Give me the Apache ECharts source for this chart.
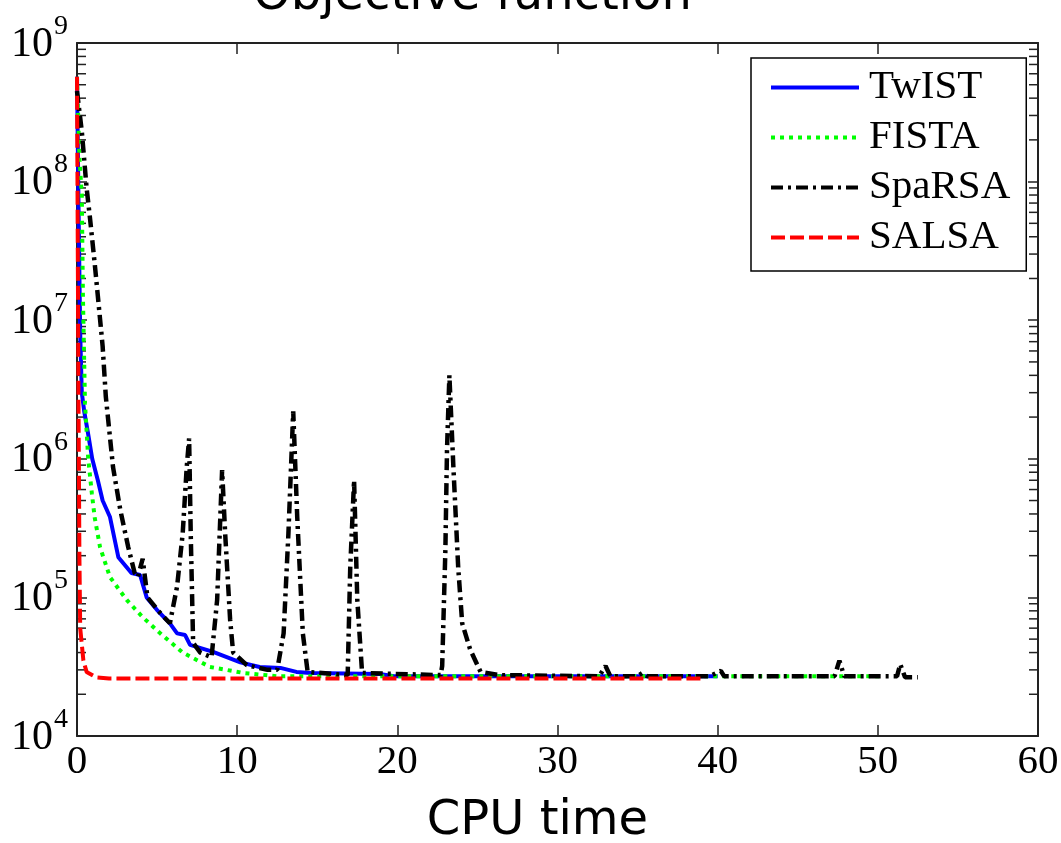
<!DOCTYPE html>
<html>
<head>
<meta charset="utf-8">
<script src="https://cdn.jsdelivr.net/npm/echarts@6/dist/echarts.min.js"></script>
<style>
html,body{margin:0;padding:0;background:#fff;}
#chart{width:1061px;height:843px;}
</style>
</head>
<body>
<div id="chart"></div>
<script>
// ---- data ----
const seriesNames = ['TwIST', 'FISTA', 'SpaRSA', 'SALSA'];

const twistT = [0, 0.1, 0.2, 0.3, 0.45, 0.7, 0.95, 1.3, 1.6, 2.06, 2.58, 3.4, 3.94, 4.35, 5.0, 5.8, 6.25, 6.75, 7.06, 8.5, 10.2, 11.4, 12.7, 13.7, 14.6, 18.9, 19.8, 40];
const twistV = [5.7e8, 6e7, 8e6, 3e6, 2.2e6, 1.5e6, 1.0e6, 7e5, 5e5, 3.8e5, 1.95e5, 1.5e5, 1.45e5, 1e5, 8.1e4, 6.5e4, 5.5e4, 5.35e4, 4.55e4, 4.05e4, 3.4e4, 3.15e4, 3.1e4, 2.9e4, 2.85e4, 2.8e4, 2.7e4, 2.7e4];

const fistaT = [0, 0.15, 0.3, 0.37, 0.5, 0.7, 0.93, 1.1, 1.44, 2.06, 3.1, 4.1, 5.2, 6.6, 8.3, 10.4, 12.5, 50.2];
const fistaV = [5.7e8, 1.5e8, 8e7, 1.5e7, 2.5e6, 1e6, 5.6e5, 3.8e5, 2.3e5, 1.4e5, 9.6e4, 7.2e4, 5.5e4, 4e4, 3.15e4, 2.85e4, 2.7e4, 2.7e4];

const sparsaT = [0, 0.3, 0.6, 0.8, 1.1, 1.3, 1.6, 1.8, 2.25, 2.7, 3.2, 3.6, 3.8, 4.1, 4.4, 5.2, 5.8, 6.25, 6.6, 6.85, 7.0, 7.1, 7.25, 7.7, 8.4, 8.75, 9.06, 9.25, 9.56, 9.75, 10.6, 11.9, 12.5, 12.9, 13.2, 13.5, 13.75, 14.1, 14.4, 16.9, 17.06, 17.3, 17.5, 17.8, 22.7, 22.8, 23.0, 23.1, 23.25, 23.5, 23.8, 24.05, 24.55, 25.2, 26.4, 32.6, 33.0, 33.3, 35.0, 35.3, 35.6, 39.5, 40.2, 40.4, 47.3, 47.6, 47.9, 51.2, 51.4, 51.7, 52.5];
const sparsaV = [4.5e8, 2.3e8, 9e7, 5.6e7, 2.6e7, 1.5e7, 6.5e6, 2.8e6, 8.7e5, 4.3e5, 2.3e5, 1.5e5, 1.4e5, 1.9e5, 1e5, 7.7e4, 6.5e4, 1.2e5, 2.9e5, 8.7e5, 1.4e6, 2.9e5, 4.7e4, 4e4, 3.7e4, 9.6e4, 8.3e5, 2.9e5, 6.9e4, 4e4, 3.25e4, 3e4, 3e4, 5.5e4, 2.9e5, 2.2e6, 3.8e5, 5.5e4, 2.9e4, 2.75e4, 1.65e5, 7e5, 9.6e4, 2.85e4, 2.75e4, 3.2e4, 2.2e5, 1.15e6, 4e6, 8.7e5, 1.65e5, 6.5e4, 4.2e4, 2.9e4, 2.75e4, 2.7e4, 3.2e4, 2.7e4, 2.7e4, 2.85e4, 2.7e4, 2.7e4, 2.95e4, 2.7e4, 2.7e4, 3.5e4, 2.7e4, 2.7e4, 3.3e4, 2.65e4, 2.65e4];

const salsaT = [0, 0.05, 0.1, 0.15, 0.2, 0.4, 0.6, 1.2, 2, 39];
const salsaV = [5.7e8, 3e7, 2e6, 2e5, 6e4, 3.5e4, 2.9e4, 2.65e4, 2.6e4, 2.6e4];

const xTicks = [0, 10, 20, 30, 40, 50, 60];
const yDecades = [4, 5, 6, 7, 8, 9];
const yMinorMultipliers = [2, 3, 4, 5, 6, 7, 8, 9];

// ---- build ----
function zip(t, v) { return t.map((x, i) => [x, v[i]]); }
const yMinorTicks = [];
yDecades.slice(0, -1).forEach(d => yMinorMultipliers.forEach(m => yMinorTicks.push([0, m * Math.pow(10, d)])));

const serif = '"Liberation Serif", "Times New Roman", serif';
const sans = '"DejaVu Sans", sans-serif';
const axisLineStyle = { color: '#222', width: 2 };

const chart = echarts.init(document.getElementById('chart'), null, { renderer: 'canvas' });

const lineCommon = { type: 'line', showSymbol: false, symbol: 'none', animation: false };

const option = {
  animation: false,
  backgroundColor: '#fff',
  title: {
    text: 'Objective function',
    left: 253,
    top: -27,
    padding: 0,
    textStyle: { fontFamily: sans, fontSize: 48, fontWeight: 'normal', color: '#000' }
  },
  grid: { left: 77, right: 23, top: 43, bottom: 107, containLabel: false, outerBoundsMode: 'none' },
  legend: {
    orient: 'vertical',
    left: 751,
    top: 58,
    data: seriesNames,
    backgroundColor: '#fff',
    borderColor: '#000',
    borderWidth: 1.5,
    borderRadius: 0,
    padding: [9, 16, 13, 18],
    itemWidth: 88,
    itemHeight: 16,
    itemGap: 9,
    itemStyle: { opacity: 0 },
    lineStyle: { width: 4 },
    textStyle: { fontFamily: serif, fontSize: 41, color: '#000', padding: [0, 0, 0, 5], lineHeight: 40 }
  },
  xAxis: [
    {
      type: 'value', min: 0, max: 60, interval: 10, position: 'bottom',
      name: 'CPU time', nameLocation: 'middle', nameGap: 62,
      nameTextStyle: { fontFamily: sans, fontSize: 48, color: '#000', padding: [0, 40, 0, 0] },
      axisLine: { show: true, onZero: false, lineStyle: axisLineStyle },
      axisTick: { show: true, inside: true, length: 11, lineStyle: { color: '#222', width: 1.5 } },
      axisLabel: { fontFamily: serif, fontSize: 41, color: '#000', margin: 6,
        formatter: v => xTicks.indexOf(v) >= 0 ? String(v) : '' },
      splitLine: { show: false }
    },
    {
      type: 'value', min: 0, max: 60, interval: 10, position: 'top',
      axisLine: { show: true, onZero: false, lineStyle: axisLineStyle },
      axisTick: { show: true, inside: true, length: 11, lineStyle: { color: '#222', width: 1.5 } },
      axisLabel: { show: false },
      splitLine: { show: false }
    }
  ],
  yAxis: [
    {
      type: 'log', logBase: 10, min: 1e4, max: 1e9, position: 'left',
      axisLine: { show: true, onZero: false, lineStyle: axisLineStyle },
      axisTick: { show: true, inside: true, length: 10, lineStyle: { color: '#222', width: 1.5 } },
      axisLabel: {
        margin: 9, color: '#000', padding: [3, 0, 0, 0],
        formatter: v => '{b|10}{e|' + Math.round(Math.log10(v)) + '}',
        rich: {
          b: { fontFamily: serif, fontSize: 42, color: '#000' },
          e: { fontFamily: serif, fontSize: 28, color: '#000', padding: [0, 0, 36, 1] }
        }
      },
      splitLine: { show: false }
    },
    {
      type: 'log', logBase: 10, min: 1e4, max: 1e9, position: 'right',
      axisLine: { show: true, onZero: false, lineStyle: axisLineStyle },
      axisTick: { show: true, inside: true, length: 10, lineStyle: { color: '#222', width: 1.5 } },
      axisLabel: { show: false },
      splitLine: { show: false }
    }
  ],
  series: [
    {
      type: 'custom', name: 'minorTicks', silent: true, z: 1,
      xAxisIndex: 0, yAxisIndex: 0,
      data: yMinorTicks,
      renderItem: function (params, api) {
        const y = api.value(1);
        const pl = api.coord([0, y]);
        const pr = api.coord([60, y]);
        const st = { stroke: '#222', lineWidth: 1.5 };
        return {
          type: 'group',
          children: [
            { type: 'line', shape: { x1: pl[0], y1: pl[1], x2: pl[0] + 9, y2: pl[1] }, style: st },
            { type: 'line', shape: { x1: pr[0] - 9, y1: pr[1], x2: pr[0], y2: pr[1] }, style: st }
          ]
        };
      }
    },
    Object.assign({}, lineCommon, {
      name: 'TwIST', data: zip(twistT, twistV), z: 3,
      lineStyle: { color: '#0000ff', width: 4, type: 'solid' }, itemStyle: { color: '#0000ff' }
    }),
    Object.assign({}, lineCommon, {
      name: 'FISTA', data: zip(fistaT, fistaV), z: 4,
      lineStyle: { color: '#00ff00', width: 4, type: [4, 5] }, itemStyle: { color: '#00ff00' }
    }),
    Object.assign({}, lineCommon, {
      name: 'SpaRSA', data: zip(sparsaT, sparsaV), z: 5,
      lineStyle: { color: '#000000', width: 4.5, type: [12, 5, 3, 5] }, itemStyle: { color: '#000000' }
    }),
    Object.assign({}, lineCommon, {
      name: 'SALSA', data: zip(salsaT, salsaV), z: 6,
      lineStyle: { color: '#ff0000', width: 4, type: [14, 5] }, itemStyle: { color: '#ff0000' }
    })
  ]
};
chart.setOption(option);
</script>
</body>
</html>
